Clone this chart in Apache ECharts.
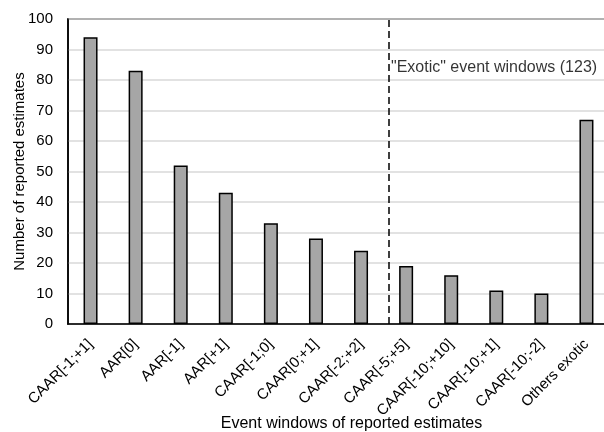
<!DOCTYPE html>
<html><head><meta charset="utf-8">
<script src="https://cdn.jsdelivr.net/npm/echarts@6/dist/echarts.min.js"></script>
<style>html,body{margin:0;padding:0;background:#fff}#c{width:604px;height:432px}</style>
</head><body><div id="c"></div>
<script>
const categories = ['CAAR[-1;+1]','AAR[0]','AAR[-1]','AAR[+1]','CAAR[-1;0]','CAAR[0;+1]','CAAR[-2;+2]','CAAR[-5;+5]','CAAR[-10;+10]','CAAR[-10;+1]','CAAR[-10;-2]','Others exotic'];
const counts = [94,83,52,43,33,28,24,19,16,11,10,67];
const yMin = 0, yMax = 100, yStep = 10;
const dividerPosition = 6.62;
const annotationText = '"Exotic" event windows (123)';
const annotationValue = 84;
const xTitle = 'Event windows of reported estimates';
const yTitle = 'Number of reported estimates';

const font = 'Liberation Sans, Arial, sans-serif';
const chart = echarts.init(document.getElementById('c'), null, {renderer:'canvas'});
chart.setOption({
  animation: false,
  backgroundColor: '#fff',
  grid: {left: 68, top: 19, right: -5, bottom: 108, show: true, borderColor: '#000', borderWidth: 1.5, containLabel: false, outerBoundsMode: 'none'},
  xAxis: [{
    type: 'category', data: categories,
    axisTick: {show: false},
    axisLine: {show: true, onZero: false, lineStyle: {color: '#000', width: 1.5}},
    axisLabel: {interval: 0, rotate: 45, fontSize: 15, color: '#000', fontFamily: font, margin: 18},
    name: xTitle, nameLocation: 'middle', nameGap: 92, nameMoveOverlap: false,
    nameTextStyle: {fontSize: 16, color: '#000', fontFamily: font, padding: [0, 0, 0, 26]}
  }, {
    type: 'value', min: -0.5, max: 11.5, show: false
  }],
  yAxis: {
    type: 'value', min: yMin, max: yMax, interval: yStep,
    axisLine: {show: true, onZero: false, lineStyle: {color: '#000', width: 1.5}},
    axisTick: {show: false},
    splitLine: {lineStyle: {color: '#d9d9d9', width: 1.5}},
    axisLabel: {fontSize: 15, color: '#000', fontFamily: font, margin: 15},
    name: yTitle, nameLocation: 'middle', nameGap: 41, nameRotate: 90, nameMoveOverlap: false,
    nameTextStyle: {fontSize: 15, color: '#000', fontFamily: font}
  },
  series: [{
    type: 'bar', data: counts, barWidth: 14,
    itemStyle: {color: '#a6a6a6', borderColor: '#000', borderWidth: 1.5}
  }, {
    type: 'scatter', xAxisIndex: 1, symbolSize: 0, silent: true,
    data: [[dividerPosition, annotationValue]],
    label: {show: true, position: 'right', distance: 2, formatter: annotationText, fontSize: 16, color: '#000', fontFamily: font},
    markLine: {
      silent: true, symbol: ['none','none'], label: {show: false},
      lineStyle: {color: '#000', type: [7, 4], width: 1.5},
      data: [{xAxis: dividerPosition}]
    }
  }]
});
</script></body></html>
